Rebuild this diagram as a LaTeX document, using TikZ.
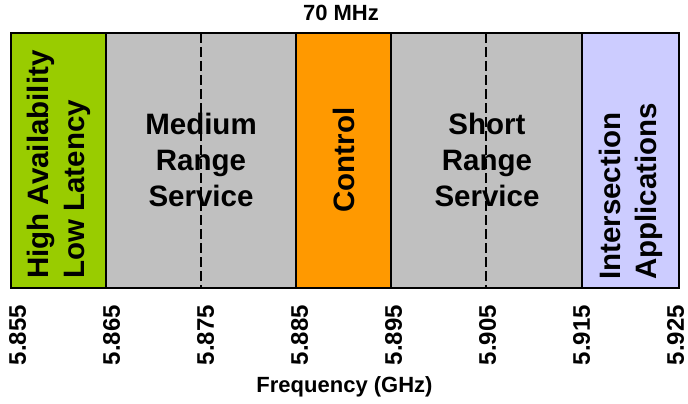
\documentclass[tikz,border=0pt]{standalone}
\usepackage{fontspec}
\setmainfont{Liberation Sans}
\definecolor{bandgreen}{HTML}{99CC00}
\definecolor{bandgray}{HTML}{C0C0C0}
\definecolor{bandorange}{HTML}{FF9900}
\definecolor{bandblue}{HTML}{CCCCFF}
\begin{document}
\begin{tikzpicture}[x=1pt,y=-1pt,
  lbl/.style={font=\fontsize{29.5}{36}\selectfont\bfseries,inner sep=0pt,align=center},
  vlbl/.style={lbl,rotate=90,align=left,anchor=west},
  freq/.style={font=\fontsize{24}{24}\selectfont\bfseries,rotate=90,anchor=east,inner sep=0pt}]
  \useasboundingbox (0,0) rectangle (688,404);
  % channels
  \fill[bandgreen] (11,33) rectangle (106,288);
  \fill[bandgray] (106,33) rectangle (296,288);
  \fill[bandorange] (296,33) rectangle (391,288);
  \fill[bandgray] (391,33) rectangle (582,288);
  \fill[bandblue] (582,33) rectangle (679,288);
  \foreach \x in {106,296,391,582} \draw[line width=1.5pt] (\x,33) -- (\x,288);
  \foreach \x in {201,486} \draw[line width=1.3pt,dash pattern=on 10pt off 4pt] (\x,33) -- (\x,288);
  \draw[line width=2.5pt] (11,33) rectangle (679,288);
  % labels
  \node[vlbl] (hall) at (58.5,279) {High Availability\\Low Latency};
  \node[lbl] (mrs) at (201,160) {Medium\\Range\\Service};
  \node[lbl,rotate=90] (ctrl) at (343.5,160) {Control};
  \node[lbl] (srs) at (487,160) {Short\\Range\\Service};
  \node[vlbl] (isec) at (630.5,280) {Intersection\\Applications};
  \node[font=\fontsize{22}{22}\selectfont\bfseries] (bw) at (341,13) {70 MHz};
  \foreach \f [count=\i from 0] in {5.855,5.865,5.875,5.885,5.895,5.905,5.915,5.925}
    \node[freq] (f\i) at (17.5+94*\i,305) {\f};
  \node[font=\fontsize{22}{22}\selectfont\bfseries] (axis) at (344.5,387) {Frequency (GHz)};
\end{tikzpicture}
\end{document}
